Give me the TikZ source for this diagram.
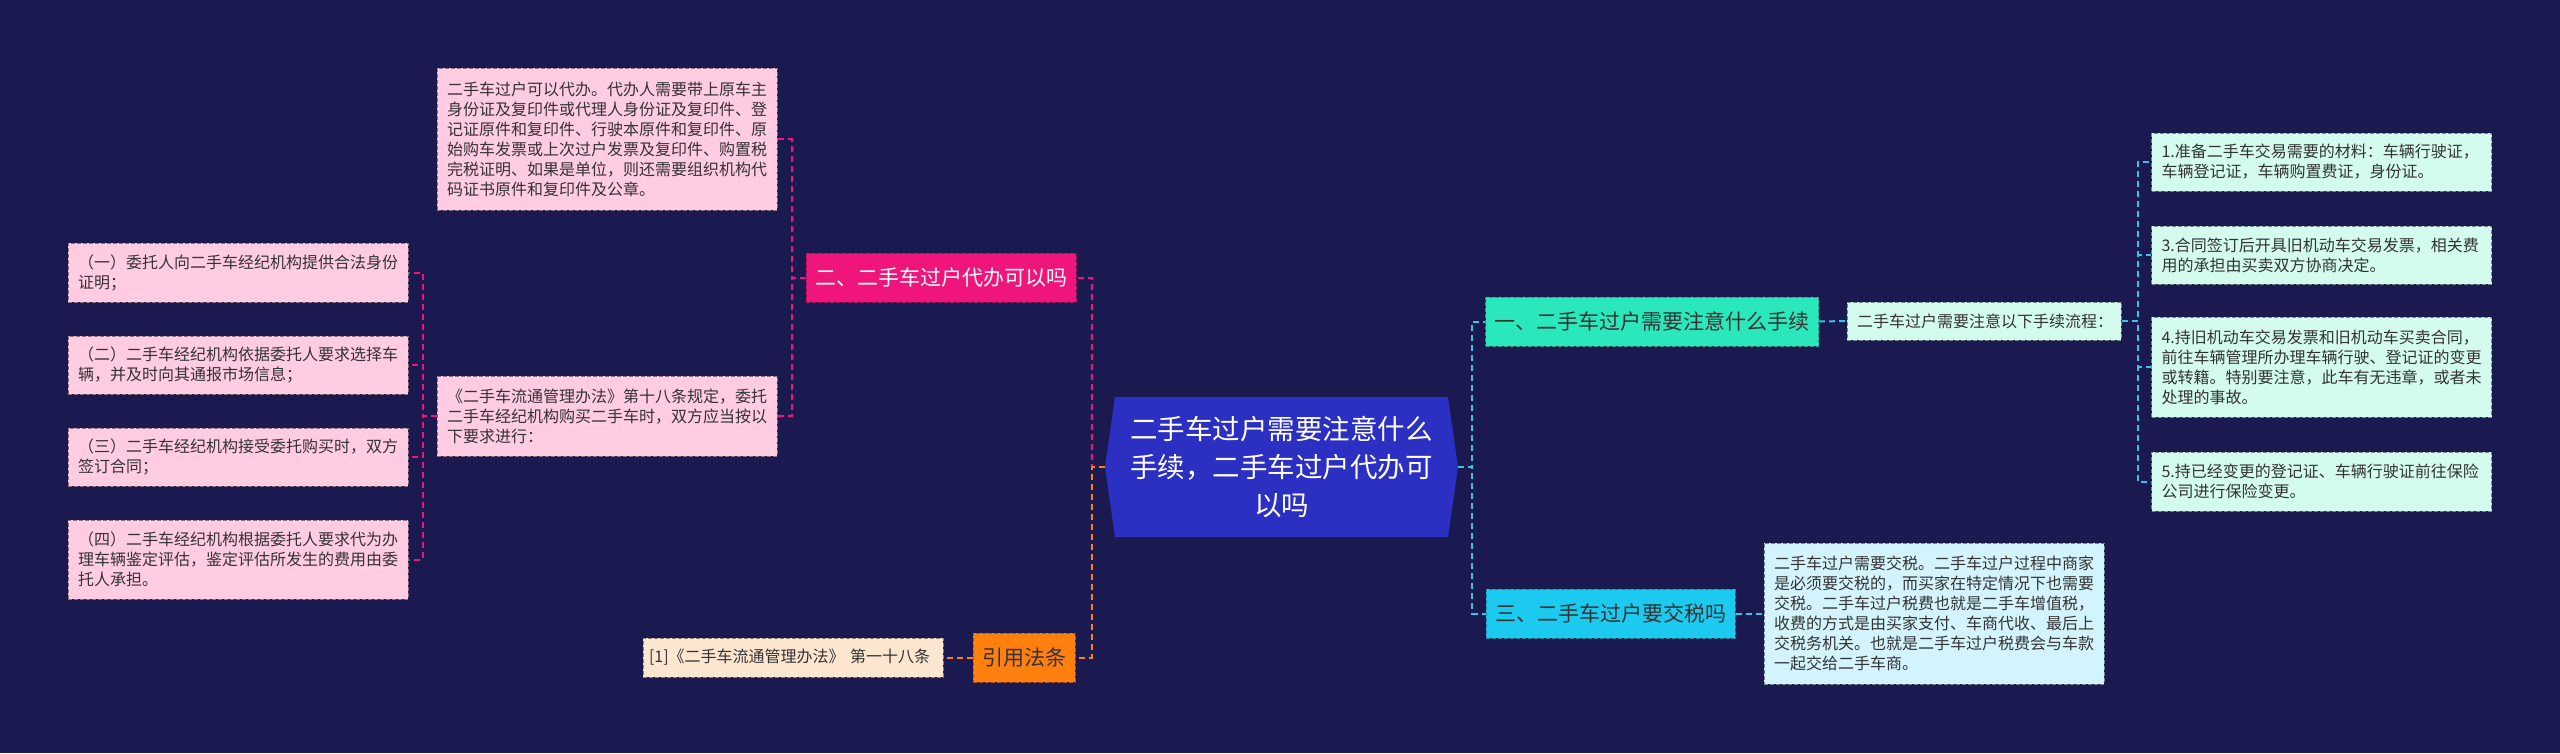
\documentclass[tikz,border=0pt]{standalone}
\usepackage{fontspec}
\setmainfont{Noto Sans CJK SC}
\usepackage{xcolor}
\usepackage{tikz}
\usetikzlibrary{positioning}

\definecolor{bgnavy}{HTML}{1B1A50}
\definecolor{hubblue}{HTML}{2B2FC2}
\definecolor{rosered}{HTML}{F0157A}
\definecolor{roselight}{HTML}{FFCCE2}
\definecolor{amber}{HTML}{FF7F0F}
\definecolor{amberlight}{HTML}{FDE6CF}
\definecolor{mint}{HTML}{2BE8BC}
\definecolor{mintlight}{HTML}{D3FBEE}
\definecolor{sky}{HTML}{1CC9EF}
\definecolor{skylight}{HTML}{D3F4FC}
\definecolor{linkcyan}{HTML}{35C6E3}
\definecolor{inkdark}{HTML}{333333}

\begin{document}
\begin{tikzpicture}[
  x=1pt, y=-1pt,
  box/.style={draw=#1!55!black, fill=#1, dash pattern=on 4pt off 2pt, line width=1pt, inner xsep=10pt, inner ysep=0pt, align=left, text width=320pt, text=inkdark, font=\fontsize{16}{20}\selectfont},
  topic/.style={draw=#1!70!black, fill=#1, dash pattern=on 4pt off 2pt, line width=1pt, inner xsep=9pt, minimum height=49pt, text=inkdark, font=\fontsize{21}{26}\selectfont},
  hub/.style={fill=bgnavy, minimum width=353pt, minimum height=140pt, align=center, text=white, font=\fontsize{27.5}{38}\selectfont,
    path picture={\fill[hubblue] ([xshift=10pt]path picture bounding box.north west) -- ([xshift=-10pt]path picture bounding box.north east) -- (path picture bounding box.east) -- ([xshift=-10pt]path picture bounding box.south east) -- ([xshift=10pt]path picture bounding box.south west) -- (path picture bounding box.west) -- cycle;}},
  link/.style={draw=#1, line width=2pt, dash pattern=on 6pt off 4pt}
]
  \fill[bgnavy] (0,0) rectangle (2560,753);
  \useasboundingbox (0,0) rectangle (2560,753);

  % centre
  \node[hub] (hub) at (1281.5,467) {二手车过户需要注意什么\\手续，二手车过户代办可\\以吗};

  % left branch
  \node[topic=rosered, text=white] (p) at (941,277.5) {二、二手车过户代办可以吗};
  \node[box=roselight, minimum height=142pt] (b1) at (607,139) {二手车过户可以代办。代办人需要带上原车主\\身份证及复印件或代理人身份证及复印件、登\\记证原件和复印件、行驶本原件和复印件、原\\始购车发票或上次过户发票及复印件、购置税\\完税证明、如果是单位，则还需要组织机构代\\码证书原件和复印件及公章。};
  \node[box=roselight, minimum height=80pt] (b2) at (607,416) {《二手车流通管理办法》第十八条规定，委托\\二手车经纪机构购买二手车时，双方应当按以\\下要求进行：};
  \node[box=roselight, minimum height=59pt] (a1) at (238,272.5) {（一）委托人向二手车经纪机构提供合法身份\\证明；};
  \node[box=roselight, minimum height=58pt] (a2) at (238,365) {（二）二手车经纪机构依据委托人要求选择车\\辆，并及时向其通报市场信息；};
  \node[box=roselight, minimum height=58pt] (a3) at (238,457) {（三）二手车经纪机构接受委托购买时，双方\\签订合同；};
  \node[box=roselight, minimum height=79pt] (a4) at (238,559.5) {（四）二手车经纪机构根据委托人要求代为办\\理车辆鉴定评估，鉴定评估所发生的费用由委\\托人承担。};

  \node[topic=amber] (o) at (1024,657.5) {引用法条};
  \node[box=amberlight, inner xsep=6pt, text width=288pt, minimum height=39pt] (r) at (793,657.5) {[1]《二手车流通管理办法》 第一十八条};

  % right branch
  \node[topic=mint] (n1) at (1652,321.5) {一、二手车过户需要注意什么手续};
  \node[box=mintlight, text width=254pt, minimum height=38pt] (d1) at (1984,321) {二手车过户需要注意以下手续流程：};
  \node[box=mintlight, minimum height=58pt] (s1) at (2321.5,162) {1.准备二手车交易需要的材料：车辆行驶证，\\车辆登记证，车辆购置费证，身份证。};
  \node[box=mintlight, minimum height=58pt] (s2) at (2321.5,255) {3.合同签订后开具旧机动车交易发票，相关费\\用的承担由买卖双方协商决定。};
  \node[box=mintlight, minimum height=100pt] (s3) at (2321.5,367) {4.持旧机动车交易发票和旧机动车买卖合同，\\前往车辆管理所办理车辆行驶、登记证的变更\\或转籍。特别要注意，此车有无违章，或者未\\处理的事故。};
  \node[box=mintlight, minimum height=59pt] (s4) at (2321.5,481.5) {5.持已经变更的登记证、车辆行驶证前往保险\\公司进行保险变更。};

  \node[topic=sky] (n3) at (1610.5,613.5) {三、二手车过户要交税吗};
  \node[box=skylight, minimum height=141pt] (t) at (1934,613.5) {二手车过户需要交税。二手车过户过程中商家\\是必须要交税的，而买家在特定情况下也需要\\交税。二手车过户税费也就是二手车增值税，\\收费的方式是由买家支付、车商代收、最后上\\交税务机关。也就是二手车过户税费会与车款\\一起交给二手车商。};

  % connectors
  \draw[link=rosered] (hub.west) -- ++(-13,0) |- (p.east);
  \draw[link=amber] (hub.west) -- ++(-13,0) |- (o.east);
  \draw[link=amber] (o.west) -- (r.east);
  \draw[link=rosered] (p.west) -- ++(-14,0) |- (b1.east);
  \draw[link=rosered] (p.west) -- ++(-14,0) |- (b2.east);
  \foreach \leaf in {a1,a2,a3,a4}
    \draw[link=rosered] (b2.west) -- ++(-14,0) |- (\leaf.east);

  \draw[link=linkcyan] (hub.east) -- ++(14,0) |- (n1.west);
  \draw[link=linkcyan] (hub.east) -- ++(14,0) |- (n3.west);
  \draw[link=linkcyan] (n1.east) -- (d1.west);
  \foreach \leaf in {s1,s2,s3,s4}
    \draw[link=linkcyan] (d1.east) -- ++(16,0) |- (\leaf.west);
  \draw[link=linkcyan] (n3.east) -- (t.west);
\end{tikzpicture}
\end{document}
